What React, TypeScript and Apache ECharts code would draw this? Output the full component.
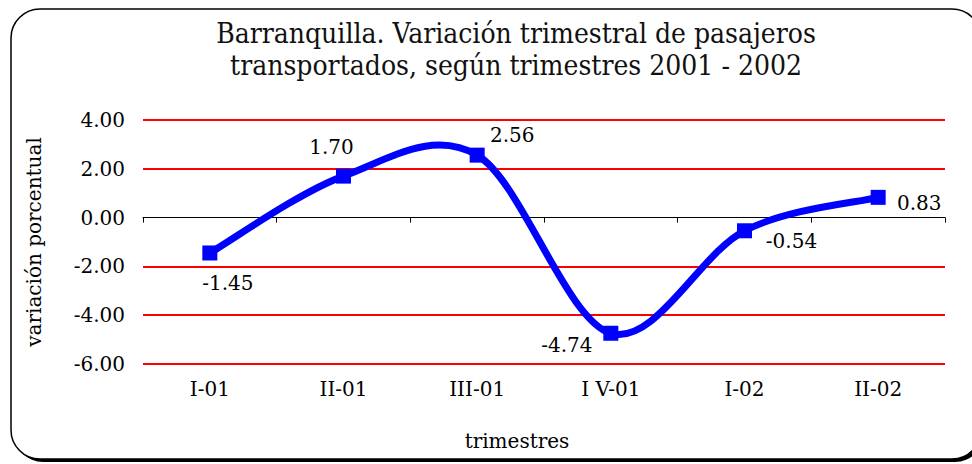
import React, { useEffect, useRef } from "react";
import * as echarts from "echarts";

const categories = ["I-01", "II-01", "III-01", "I V-01", "I-02", "II-02"];
const values = [-1.45, 1.7, 2.56, -4.74, -0.54, 0.83];
const labelOffsets: [number, number][] = [
  [18, 30],
  [-12, -29],
  [35, -20],
  [-44, 12],
  [47, 10],
  [41, 6],
];
const titleLines = [
  "Barranquilla. Variación trimestral de pasajeros",
  "transportados, según trimestres 2001 - 2002",
];

const SERIF = "DejaVu Serif";
const TITLE_FONT = "'DejaVu Serif Condensed', 'Liberation Serif', serif";

export default function App() {
  const ref = useRef<HTMLDivElement>(null);
  useEffect(() => {
    if (!ref.current) return;
    const chart = echarts.init(ref.current, null, { renderer: "svg" });
    chart.setOption({
      animation: false,
      backgroundColor: "#fff",
      graphic: [
        {
          type: "rect",
          z: -10,
          silent: true,
          shape: { x: 14, y: 12, width: 970, height: 450, r: 29 },
          style: { fill: "#000" },
        },
        {
          type: "rect",
          z: -9,
          silent: true,
          shape: { x: 11, y: 9, width: 970, height: 450, r: 29 },
          style: { fill: "#fff", stroke: "#000", lineWidth: 1.5 },
        },
        {
          type: "text",
          x: 516,
          y: 17,
          style: {
            text: titleLines.join("\n"),
            font: `28px ${TITLE_FONT}`,
            fill: "#111",
            textAlign: "center",
            textVerticalAlign: "top",
            lineHeight: 32,
          },
          z: 10,
        },
      ],
      grid: { left: 143, right: 27, top: 120, bottom: 100 },
      xAxis: [
        {
          type: "category",
          data: categories,
          boundaryGap: true,
          axisLine: { onZero: true, lineStyle: { color: "#000", width: 1 } },
          axisTick: { show: true, length: 5, lineStyle: { color: "#000" } },
          axisLabel: { show: false },
          splitLine: { show: false },
          z: 3,
        },
        {
          type: "category",
          position: "bottom",
          data: categories,
          boundaryGap: true,
          axisLine: { show: false, onZero: false },
          axisTick: { show: false },
          axisLabel: {
            show: true,
            margin: 15,
            fontFamily: SERIF,
            fontSize: 20,
            color: "#000",
          },
          name: "trimestres",
          nameLocation: "middle",
          nameGap: 67,
          nameTextStyle: {
            fontFamily: SERIF,
            fontSize: 20,
            color: "#000",
            padding: [0, 54, 0, 0],
          },
        },
      ],
      yAxis: {
        type: "value",
        min: -6,
        max: 4,
        interval: 2,
        axisLine: { show: false },
        axisTick: { show: false },
        axisLabel: {
          formatter: (v: number) => v.toFixed(2),
          fontFamily: SERIF,
          fontSize: 20,
          color: "#000",
          margin: 18,
        },
        splitLine: {
          show: true,
          lineStyle: {
            color: ["#ff0000", "#ff0000", "#ff0000", "rgba(0,0,0,0)", "#ff0000", "#ff0000"],
            width: 2,
          },
        },
        name: "variación porcentual",
        nameLocation: "middle",
        nameGap: 99,
        nameRotate: 90,
        nameTextStyle: { fontFamily: SERIF, fontSize: 20, color: "#000" },
      },
      series: [
        {
          type: "custom",
          xAxisIndex: 0,
          coordinateSystem: "cartesian2d",
          data: values.map((v, i) => [i, v]),
          encode: { x: 0, y: 1 },
          silent: true,
          z: 4,
          renderItem: (params: any, api: any) => {
            if (params.dataIndex !== 0) return null;
            const pts = values.map((v, i) => api.coord([i, v]));
            const n = pts.length;
            let d = `M${pts[0][0]},${pts[0][1]}`;
            const k = 1 / 6;
            for (let i = 0; i < n - 1; i++) {
              const p0 = pts[Math.max(0, i - 1)];
              const p1 = pts[i];
              const p2 = pts[i + 1];
              const p3 = pts[Math.min(n - 1, i + 2)];
              const c1x = p1[0] + (p2[0] - p0[0]) * k;
              const c1y = p1[1] + (p2[1] - p0[1]) * k;
              const c2x = p2[0] - (p3[0] - p1[0]) * k;
              const c2y = p2[1] - (p3[1] - p1[1]) * k;
              d += ` C${c1x},${c1y} ${c2x},${c2y} ${p2[0]},${p2[1]}`;
            }
            return {
              type: "path",
              shape: { pathData: d },
              style: { fill: "none", stroke: "#0000ff", lineWidth: 7, lineJoin: "round" },
            };
          },
        },
        {
          type: "line",
          xAxisIndex: 0,
          data: values.map((v, i) => ({
            value: v,
            label: {
              show: true,
              position: "inside",
              offset: labelOffsets[i],
              formatter: v.toFixed(2),
              fontFamily: SERIF,
              fontSize: 20,
              color: "#000",
            },
          })),
          symbol: "rect",
          symbolSize: 15,
          lineStyle: { width: 0, opacity: 0 },
          itemStyle: { color: "#0000ff" },
          z: 5,
        },
      ],
    });
    return () => chart.dispose();
  }, []);
  return (
    <div
      ref={ref}
      style={{ position: "fixed", left: 0, top: 0, width: 972, height: 464 }}
    />
  );
}
